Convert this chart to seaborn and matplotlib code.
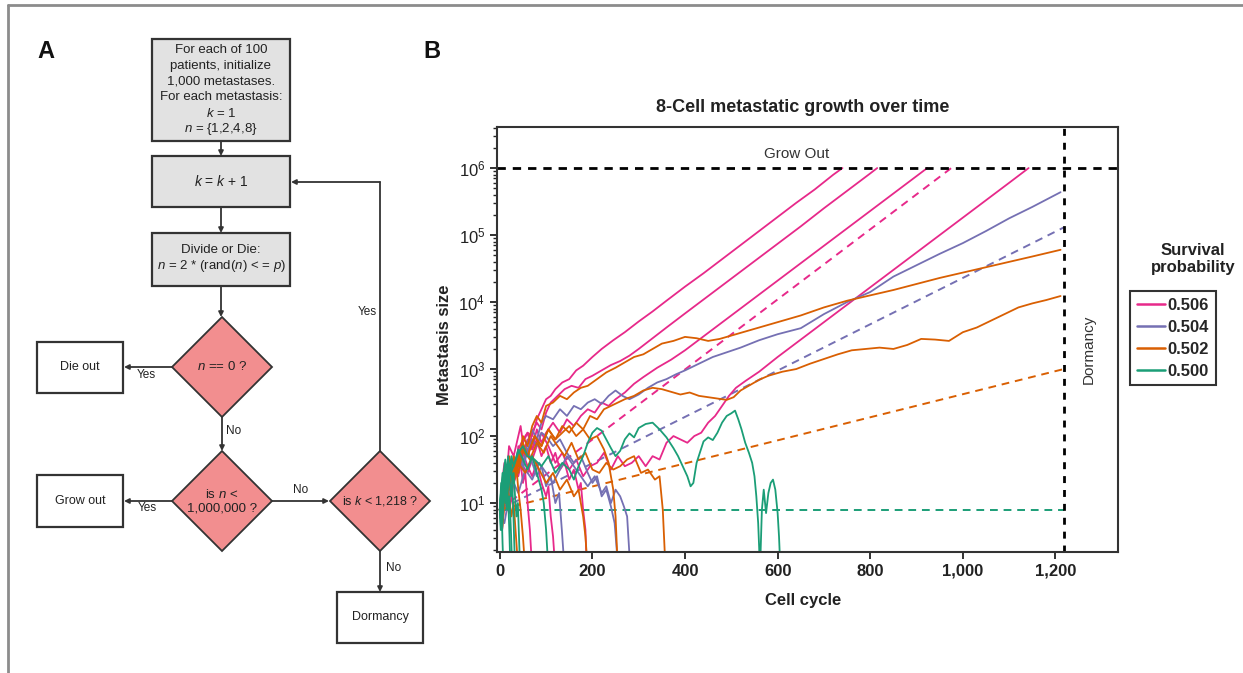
import matplotlib
matplotlib.use("Agg")
import matplotlib.pyplot as plt
from matplotlib.patches import Rectangle, Polygon
from matplotlib.lines import Line2D
from matplotlib.ticker import LogLocator, NullFormatter
import pandas as pd
import seaborn as sns

# survival probabilities, colours (Dark2)
probs = ["0.506", "0.504", "0.502", "0.500"]
colors = ["#e7298a", "#7570b3", "#d95f02", "#1b9e77"]

# simulated metastases as (cell cycle, log10 size); a drop to 0 means it died out
# p = 0.506
pink_a = [(0, 0.9), (5, 1.2), (10, 1.05), (15, 1.4), (20, 1.3), (25, 1.65), (30, 1.5), (40, 1.8), (50, 1.95),
          (60, 2.05), (70, 2.0), (80, 2.25), (90, 2.4), (100, 2.55), (110, 2.6), (120, 2.7), (135, 2.8), (150, 2.85),
          (165, 2.98), (180, 3.05), (200, 3.18), (220, 3.3), (245, 3.43), (270, 3.55), (300, 3.71), (330, 3.86),
          (360, 4.02), (400, 4.23), (440, 4.43), (480, 4.64), (520, 4.85), (560, 5.06), (600, 5.27), (640, 5.48),
          (680, 5.68), (720, 5.9), (740, 6.0)]
pink_b = [(0, 0.9), (5, 0.7), (10, 1.1), (15, 0.95), (20, 1.35), (30, 1.6), (40, 1.45), (50, 1.85), (60, 1.7),
          (70, 2.05), (80, 2.2), (90, 2.1), (100, 2.35), (110, 2.5), (125, 2.6), (140, 2.7), (155, 2.75), (170, 2.72),
          (185, 2.85), (200, 2.9), (220, 2.98), (240, 3.06), (260, 3.12), (280, 3.2), (300, 3.3), (330, 3.46),
          (360, 3.62), (400, 3.83), (450, 4.09), (500, 4.35), (550, 4.61), (600, 4.87), (650, 5.13), (700, 5.4),
          (750, 5.66), (800, 5.92), (815, 6.0)]
pink_c = [(0, 0.9), (10, 1.3), (20, 1.15), (30, 1.55), (40, 1.4), (50, 1.75), (60, 1.95), (70, 1.8), (80, 2.1),
          (90, 1.9), (100, 2.05), (115, 2.2), (130, 2.05), (145, 2.25), (160, 2.15), (175, 2.3), (190, 2.4),
          (205, 2.35), (220, 2.5), (235, 2.45), (250, 2.55), (270, 2.65), (290, 2.78), (310, 2.88), (340, 3.02),
          (370, 3.14), (400, 3.28), (450, 3.54), (500, 3.8), (550, 4.06), (600, 4.32), (650, 4.58), (700, 4.84),
          (750, 5.1), (800, 5.36), (850, 5.62), (900, 5.88), (923, 6.0)]
pink_d = [(0, 0.9), (10, 1.2), (20, 0.85), (30, 1.3), (45, 1.6), (60, 1.45), (75, 1.75), (90, 2.05), (105, 1.85),
          (120, 1.6), (135, 1.75), (150, 1.5), (165, 1.65), (180, 1.4), (195, 1.55), (210, 1.6), (225, 1.75),
          (240, 1.5), (255, 1.7), (270, 1.55), (285, 1.6), (300, 1.7), (315, 1.55), (330, 1.7), (345, 1.65),
          (360, 1.9), (375, 2.0), (390, 1.95), (405, 1.9), (420, 2.0), (435, 2.05), (450, 2.2), (465, 2.3),
          (480, 2.45), (495, 2.6), (510, 2.72), (530, 2.82), (560, 2.96), (600, 3.18), (650, 3.44), (700, 3.7),
          (750, 3.96), (800, 4.22), (850, 4.48), (900, 4.74), (950, 5.0), (1000, 5.26), (1050, 5.52),
          (1100, 5.78), (1142, 6.0)]
pink_e = [(0, 0.9), (5, 1.2), (10, 0.95), (15, 1.4), (20, 1.55), (25, 1.3), (30, 1.7), (35, 1.5), (40, 1.85),
          (45, 1.6), (50, 1.3), (55, 1.45), (60, 1.0), (65, 0.6), (70, 0.0)]
pink_f = [(0, 0.9), (5, 1.3), (10, 1.6), (15, 1.4), (20, 1.85), (30, 1.7), (40, 2.0), (45, 2.15), (50, 1.9),
          (60, 2.05), (70, 1.8), (80, 1.95), (90, 1.7), (100, 1.85), (110, 1.6), (120, 1.75), (130, 1.5), (140, 1.6),
          (150, 1.35), (160, 1.5), (170, 1.2), (175, 1.3), (180, 0.9), (185, 0.6), (188, 0.0)]
pink_g = [(0, 0.9), (5, 0.6), (10, 1.0), (15, 1.25), (20, 1.1), (25, 1.45), (30, 1.3), (35, 1.6), (40, 1.45),
          (50, 1.75), (60, 1.55), (70, 1.4), (80, 1.6), (90, 1.3), (100, 1.1), (105, 1.25), (110, 0.8), (115, 0.5),
          (120, 0.0)]
# p = 0.504
purple_a = [(0, 0.9), (10, 1.25), (20, 1.0), (30, 1.5), (40, 1.75), (50, 1.6), (60, 1.9), (70, 2.1), (80, 1.95),
            (90, 2.2), (100, 2.3), (115, 2.25), (130, 2.4), (145, 2.3), (160, 2.45), (175, 2.4), (190, 2.5),
            (205, 2.55), (220, 2.48), (235, 2.6), (250, 2.68), (265, 2.6), (280, 2.55), (300, 2.62), (320, 2.72),
            (340, 2.8), (360, 2.85), (380, 2.92), (400, 2.98), (430, 3.08), (460, 3.18), (490, 3.25), (520, 3.32),
            (560, 3.43), (600, 3.52), (650, 3.61), (700, 3.82), (750, 4.0), (800, 4.15), (850, 4.38), (900, 4.55),
            (950, 4.72), (1000, 4.88), (1050, 5.06), (1100, 5.25), (1150, 5.42), (1211, 5.64)]
purple_b = [(0, 0.9), (10, 1.2), (20, 1.5), (30, 1.35), (40, 1.7), (50, 1.55), (60, 1.8), (70, 1.6), (80, 1.4),
            (90, 1.55), (100, 1.25), (110, 1.4), (120, 1.0), (128, 1.15), (134, 0.6), (140, 0.0)]
purple_c = [(0, 0.9), (10, 1.3), (20, 1.1), (30, 1.45), (40, 1.65), (50, 1.5), (60, 1.8), (70, 1.95), (80, 1.85),
            (90, 2.05), (100, 2.0), (115, 1.85), (130, 1.95), (145, 1.75), (160, 1.6), (175, 1.7), (190, 1.45),
            (200, 1.3), (210, 1.4), (220, 1.1), (230, 1.2), (240, 0.95), (248, 0.7), (256, 0.0)]
purple_d = [(0, 0.9), (10, 0.7), (20, 1.1), (30, 1.3), (40, 1.15), (55, 1.5), (70, 1.35), (85, 1.6), (100, 1.45),
            (115, 1.3), (130, 1.5), (145, 1.7), (160, 1.55), (175, 1.4), (190, 1.25), (205, 1.4), (220, 1.15),
            (230, 1.25), (240, 1.0), (250, 1.2), (260, 1.1), (268, 0.95), (275, 0.8), (282, 0.0)]
# p = 0.502
orange_a = [(0, 0.9), (10, 1.4), (20, 1.2), (30, 1.7), (40, 1.55), (50, 2.0), (60, 1.85), (70, 2.15), (80, 2.3),
            (90, 2.2), (100, 2.45), (115, 2.5), (130, 2.6), (145, 2.55), (160, 2.65), (175, 2.72), (190, 2.75),
            (210, 2.85), (230, 2.95), (250, 3.02), (270, 3.1), (290, 3.18), (310, 3.22), (330, 3.3), (350, 3.38),
            (375, 3.42), (400, 3.48), (425, 3.46), (450, 3.42), (475, 3.45), (500, 3.5), (530, 3.56), (560, 3.62),
            (600, 3.7), (650, 3.8), (700, 3.92), (750, 4.02), (800, 4.1), (850, 4.18), (900, 4.27), (950, 4.36),
            (1000, 4.44), (1050, 4.52), (1100, 4.6), (1150, 4.68), (1211, 4.78)]
orange_b = [(0, 0.9), (10, 1.15), (20, 1.5), (30, 1.3), (40, 1.65), (50, 1.9), (60, 1.7), (75, 2.0), (90, 1.85),
            (105, 2.1), (120, 1.95), (135, 2.15), (150, 2.05), (165, 2.2), (180, 2.1), (195, 2.3), (210, 2.25),
            (225, 2.4), (240, 2.45), (255, 2.5), (270, 2.55), (290, 2.6), (310, 2.68), (330, 2.72), (350, 2.7),
            (370, 2.66), (390, 2.62), (410, 2.65), (430, 2.6), (450, 2.58), (470, 2.56), (490, 2.54), (505, 2.58),
            (520, 2.68), (540, 2.76), (560, 2.84), (580, 2.9), (610, 2.96), (640, 3.0), (670, 3.08), (700, 3.15),
            (730, 3.22), (760, 3.28), (790, 3.3), (820, 3.32), (850, 3.3), (880, 3.36), (910, 3.45), (940, 3.44),
            (970, 3.42), (1000, 3.55), (1030, 3.62), (1060, 3.72), (1090, 3.82), (1120, 3.92), (1150, 3.98),
            (1180, 4.03), (1211, 4.09)]
orange_c = [(0, 0.9), (10, 1.35), (20, 1.2), (30, 1.6), (40, 1.45), (50, 1.8), (65, 1.65), (80, 1.9), (95, 1.75),
            (110, 2.0), (125, 1.85), (140, 1.7), (155, 1.9), (170, 1.65), (185, 1.75), (200, 1.5), (215, 1.45),
            (230, 1.6), (245, 1.5), (260, 1.55), (275, 1.65), (290, 1.7), (305, 1.45), (320, 1.5), (335, 1.35),
            (345, 1.4), (352, 0.9), (358, 0.0)]
orange_d = [(0, 0.9), (10, 1.3), (20, 1.6), (30, 1.45), (45, 1.8), (60, 1.7), (75, 2.0), (90, 1.85), (105, 2.1),
            (120, 1.95), (135, 2.05), (150, 2.15), (165, 2.0), (180, 2.1), (195, 1.95), (210, 2.0), (225, 1.8),
            (235, 1.6), (245, 1.2), (250, 0.8), (255, 0.0)]
orange_e = [(0, 0.9), (5, 1.25), (10, 1.5), (15, 1.3), (20, 1.7), (25, 1.55), (30, 1.4), (35, 1.6), (40, 1.2),
            (45, 0.9), (50, 0.5), (55, 0.0)]
orange_f = [(0, 0.9), (5, 0.6), (10, 1.0), (15, 1.3), (20, 1.1), (25, 0.8), (30, 1.0), (35, 0.5), (40, 0.0)]
orange_g = [(0, 0.9), (10, 1.2), (20, 1.5), (30, 1.35), (40, 1.6), (55, 1.45), (70, 1.7), (85, 1.5), (100, 1.3),
            (115, 1.45), (130, 1.2), (145, 1.35), (160, 1.1), (170, 1.2), (180, 0.8), (185, 0.5), (190, 0.0)]
# p = 0.500
green_a = [(0, 0.9), (5, 0.6), (10, 1.2), (15, 1.0), (20, 1.4), (30, 1.55), (40, 1.75), (50, 1.85), (60, 1.7),
           (75, 1.65), (90, 1.55), (105, 1.7), (120, 1.45), (135, 1.6), (150, 1.5), (160, 1.35), (170, 1.55),
           (180, 1.7), (190, 1.9), (200, 2.05), (210, 2.12), (220, 2.08), (230, 1.95), (240, 1.82), (250, 1.7),
           (260, 1.78), (270, 1.95), (280, 2.04), (290, 1.98), (300, 2.12), (315, 2.18), (330, 2.2), (345, 2.1),
           (360, 1.98), (375, 1.82), (385, 1.7), (395, 1.55), (405, 1.4), (412, 1.25), (418, 1.3), (425, 1.6),
           (432, 1.75), (440, 1.92), (450, 1.98), (460, 1.94), (470, 2.05), (480, 2.2), (490, 2.3), (500, 2.34),
           (508, 2.38), (515, 2.25), (522, 2.1), (530, 1.9), (538, 1.75), (545, 1.6), (550, 1.4), (554, 1.1),
           (558, 0.7), (562, 0.0), (566, 0.9), (570, 1.2), (575, 0.85), (580, 1.15), (585, 1.3), (590, 1.35),
           (595, 1.2), (600, 0.85), (603, 0.5), (606, 0.0)]
green_b = [(0, 0.9), (5, 1.3), (10, 1.1), (15, 1.5), (20, 1.35), (25, 1.7), (30, 1.55), (40, 1.8), (50, 1.65),
           (60, 1.5), (70, 1.7), (80, 1.45), (90, 1.2), (95, 1.0), (100, 0.6), (105, 0.0)]
green_c = [(0, 0.9), (3, 1.2), (6, 0.8), (9, 1.3), (12, 1.5), (15, 1.2), (18, 1.6), (21, 1.4), (24, 1.1),
           (27, 1.3), (30, 0.7), (33, 0.0)]
green_d = [(0, 0.9), (3, 0.6), (6, 1.0), (9, 1.4), (12, 1.2), (15, 0.9), (18, 1.1), (21, 0.5), (23, 0.0)]
green_e = [(0, 0.9), (3, 1.3), (6, 1.1), (9, 1.5), (12, 1.65), (15, 1.4), (18, 1.7), (21, 1.5), (24, 1.6),
           (27, 1.3), (30, 1.45), (33, 1.1), (36, 0.8), (39, 1.0), (42, 0.4), (44, 0.0)]
green_f = [(0, 0.9), (2, 0.6), (4, 0.9), (6, 0.4), (8, 0.0)]
green_g = [(0, 0.9), (3, 1.2), (6, 1.45), (9, 1.2), (12, 1.0), (15, 1.3), (18, 0.9), (21, 1.1), (24, 0.6),
           (27, 0.0)]

runs = {
    "0.506": [pink_a, pink_b, pink_c, pink_d, pink_e, pink_f, pink_g],
    "0.504": [purple_a, purple_b, purple_c, purple_d],
    "0.502": [orange_a, orange_b, orange_c, orange_d, orange_e, orange_f, orange_g],
    "0.500": [green_a, green_b, green_c, green_d, green_e, green_f, green_g],
}

# expected growth 8*(2p)^k, read as straight lines from start to end point
exp_start_size = 8
exp_end_cycle = [975, 1218, 1218, 1218]
exp_end_size = [1.0e6, 1.3e5, 1.0e3, 8]

# first flowchart box, line by line
init_lines = ["For each of 100", "patients, initialize", "1,000 metastases.", "For each metastasis:",
              "$k$ = 1", "$n$ = {1,2,4,8}"]

rows = []
for p, lst in runs.items():
    for i, tr in enumerate(lst):
        for c, v in tr:
            rows.append({"prob": p, "traj": i, "cycle": c, "size": 10 ** v})
df = pd.DataFrame(rows)

#%%
sns.set_style("ticks")
plt.rcParams["font.family"] = ["Liberation Sans", "DejaVu Sans"]
plt.rcParams["mathtext.fontset"] = "custom"
plt.rcParams["mathtext.rm"] = "Liberation Sans"
plt.rcParams["mathtext.it"] = "Liberation Sans:italic"
plt.rcParams["mathtext.bf"] = "Liberation Sans:bold"

W, H = 1243, 673
fig = plt.figure(figsize=(W / 100, H / 100), dpi=100)

# overlay in pixel coords for panel A and loose texts
fa = fig.add_axes([0, 0, 1, 1])
fa.set_xlim(0, W)
fa.set_ylim(H, 0)
fa.axis("off")

edge = "#333333"
fa.plot([8, 8], [5, H], color="#8c8c8c", lw=2)
fa.plot([8, W], [5, 5], color="#8c8c8c", lw=2)

def box(x0, y0, x1, y1, fill):
    fa.add_patch(Rectangle((x0, y0), x1 - x0, y1 - y0, facecolor=fill, edgecolor=edge, lw=1.6))

def diamond(cx, cy, hw=50, hh=50):
    fa.add_patch(Polygon([(cx, cy - hh), (cx + hw, cy), (cx, cy + hh), (cx - hw, cy)],
                         closed=True, facecolor="#f28e8f", edgecolor=edge, lw=1.3))

def arrow(x0, y0, x1, y1):
    fa.annotate("", xy=(x1, y1), xytext=(x0, y0),
                arrowprops=dict(arrowstyle="-|>", color=edge, lw=1.3, mutation_scale=7, shrinkA=0, shrinkB=0))

def txt(x, y, s, size=9, **kw):
    fa.text(x, y, s, ha="center", va="center", fontsize=size, color="#222222", linespacing=1.2, **kw)

box(152, 39, 290, 141, "#e2e2e2")
box(152, 156, 290, 207, "#e2e2e2")
box(152, 233, 290, 286, "#e2e2e2")
box(37, 342, 123, 393, "white")
box(37, 475, 123, 527, "white")
box(337, 592, 423, 643, "white")
diamond(222, 367)
diamond(222, 501)
diamond(380, 501)

arrow(221, 141, 221, 156)
arrow(221, 207, 221, 233)
arrow(221, 286, 221, 317)
arrow(172, 367, 124, 367)
arrow(222, 417, 222, 451)
arrow(172, 501, 124, 501)
arrow(272, 501, 329, 501)
arrow(380, 551, 380, 592)
fa.plot([380, 380], [451, 182], color=edge, lw=1.3)
arrow(380, 182, 291, 182)

for j, line in enumerate(init_lines):
    txt(221, 50 + j * 15.8, line, size=9.5)
txt(221, 182, "$k$ = $k$ + 1", size=10)
txt(221, 259, "Divide or Die:\n$n$ = 2 * (rand($n$) < = $p$)", size=9.5)
txt(222, 367, "$n$ == 0 ?", size=9.5)
txt(222, 501, "is $n$ <\n1,000,000 ?", size=9.5)
txt(380, 501, "is $k$ < 1,218 ?", size=9)
txt(80, 367, "Die out")
txt(80, 501, "Grow out")
txt(380, 617, "Dormancy")
txt(146, 375, "Yes", size=8.5)
txt(147, 508, "Yes", size=8.5)
txt(234, 431, "No", size=8.5)
txt(301, 490, "No", size=8.5)
txt(394, 568, "No", size=8.5)
txt(367, 312, "Yes", size=8.5)

fa.text(46, 52, "A", fontsize=17, fontweight="bold", ha="center", va="center", color="#111111")
fa.text(432, 52, "B", fontsize=17, fontweight="bold", ha="center", va="center", color="#111111")
fa.text(803, 107, "8-Cell metastatic growth over time", fontsize=13, fontweight="bold",
        ha="center", va="center", color="#222222")
fa.text(445, 345, "Metastasis size", rotation=90, fontsize=12, fontweight="bold",
        ha="center", va="center", color="#222222")
fa.text(803, 600, "Cell cycle", fontsize=12, fontweight="bold", ha="center", va="center", color="#222222")
fa.text(1193, 259, "Survival\nprobability", fontsize=12, fontweight="bold", ha="center", va="center",
        color="#222222", linespacing=1.15)

#%% panel B
ax = fig.add_axes([497 / W, 1 - 552 / H, (1118 - 497) / W, (552 - 127) / H])
ax.set_yscale("log")

for p, c, xe, ye in zip(probs, colors, exp_end_cycle, exp_end_size):
    sns.lineplot(x=[0, xe], y=[exp_start_size, ye], color=c, lw=1.4, ax=ax, linestyle=(0, (4, 3)))

for p, c in zip(probs, colors):
    sns.lineplot(data=df[df["prob"] == p], x="cycle", y="size", units="traj", estimator=None,
                 color=c, lw=1.3, ax=ax, legend=False)

ax.axhline(1e6, color="black", lw=2, ls=(0, (3, 2.5)))
ax.axvline(1218, color="black", lw=2, ls=(0, (2.5, 2.5)))
ax.text(640, 1.6e6, "Grow Out", ha="center", va="center", fontsize=11, color="#333333")
ax.text(1272, 2e3, "Dormancy", rotation=90, ha="center", va="center", fontsize=11, color="#333333")

ax.set_xlim(-6, 1335)
ax.set_ylim(1.86, 4.1e6)
ax.set_xticks([0, 200, 400, 600, 800, 1000, 1200])
ax.set_xticklabels(["0", "200", "400", "600", "800", "1,000", "1,200"])
ax.set_yticks([1e1, 1e2, 1e3, 1e4, 1e5, 1e6])
ax.yaxis.set_minor_locator(LogLocator(base=10, subs=range(2, 10), numticks=20))
ax.yaxis.set_minor_formatter(NullFormatter())
ax.set_xlabel("")
ax.set_ylabel("")
ax.tick_params(axis="both", which="major", direction="out", length=5, width=1.3, labelsize=12,
               colors="#222222")
ax.tick_params(axis="y", which="minor", direction="out", length=3, width=1)
for lbl in ax.get_xticklabels():
    lbl.set_fontweight("bold")
for s in ax.spines.values():
    s.set_color("#333333")
    s.set_linewidth(1.5)

handles = [Line2D([0], [0], color=c, lw=1.8) for c in colors]
leg = ax.legend(handles, probs, loc="upper left", bbox_to_anchor=(1130 / W, 1 - 291 / H),
                bbox_transform=fig.transFigure, frameon=True, fancybox=False, edgecolor="black",
                prop={"weight": "bold", "size": 12}, handlelength=1.7, handletextpad=0.15,
                labelspacing=0.42, borderpad=0.4, borderaxespad=0)
leg.get_frame().set_linewidth(1.5)

fig.savefig("out.png", dpi=100)
